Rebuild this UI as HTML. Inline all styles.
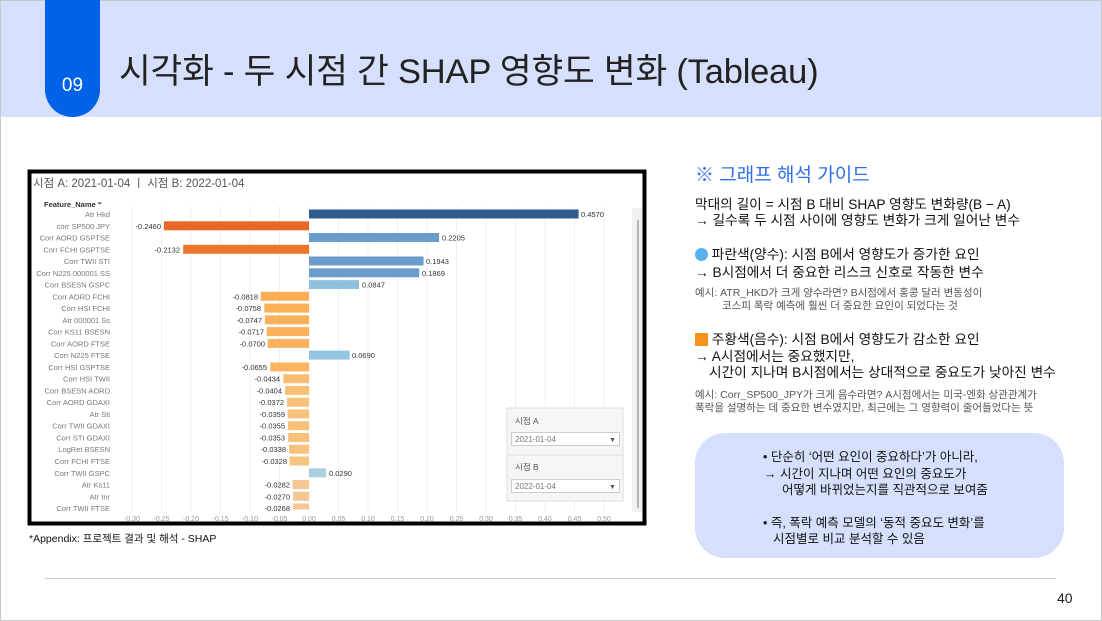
<!DOCTYPE html>
<html><head><meta charset="utf-8">
<style>
*{margin:0;padding:0;box-sizing:border-box}
body{width:1102px;height:621px;overflow:hidden;background:#fff;font-family:"Liberation Sans","Noto Sans CJK KR",sans-serif;position:relative}
.frame{position:absolute;left:0;top:0;width:1102px;height:621px;border:1px solid #c8c8c8}
.hdr{position:absolute;left:1px;top:1px;width:1100px;height:116px;background:#d6e0fd}
.tab{position:absolute;left:45px;top:0;width:55px;height:117px;background:#0062e8;border-radius:0 0 28px 28px;color:#fff;font-size:19px;text-align:center;padding-top:75px}
.title{position:absolute;left:119px;top:43px;font-size:34.5px;color:#222;white-space:nowrap;letter-spacing:-0.2px}
.t{position:absolute;white-space:nowrap;color:#111}
.s{font-size:13.7px}
.m{font-size:10.5px;color:#555}
.box{position:absolute;left:695px;top:433px;width:369px;height:125px;background:#d6e0fd;border-radius:30px}
</style></head><body>
<div class="frame"></div>
<div class="hdr"></div>
<div class="tab">09</div>
<div class="title">시각화 - 두 시점 간 SHAP 영향도 변화 (Tableau)</div>

<svg style="position:absolute;left:0;top:0" width="1102" height="621">
<rect x="29.5" y="171.5" width="615" height="352" fill="#fff" stroke="#000" stroke-width="4"/>
<text x="33" y="187" font-size="11.5" fill="#555" font-family="Liberation Sans,Noto Sans CJK KR,sans-serif">시점 A: 2021-01-04 ㅣ 시점 B: 2022-01-04</text>
<text x="44" y="207" font-size="7.5" fill="#333" font-weight="bold" font-family="Liberation Sans,sans-serif">Feature_Name ⁼</text>
<rect x="632" y="208" width="10" height="304" fill="#f0f0f0"/>
<line x1="638" y1="220" x2="638" y2="508" stroke="#777" stroke-width="1"/>
<g stroke="#f0f0f0" stroke-width="1">
<line x1="132" y1="206" x2="132" y2="512"/><line x1="161.5" y1="206" x2="161.5" y2="512"/><line x1="191" y1="206" x2="191" y2="512"/><line x1="220.5" y1="206" x2="220.5" y2="512"/><line x1="250" y1="206" x2="250" y2="512"/><line x1="279.5" y1="206" x2="279.5" y2="512"/><line x1="309" y1="206" x2="309" y2="512"/><line x1="338.5" y1="206" x2="338.5" y2="512"/><line x1="368" y1="206" x2="368" y2="512"/><line x1="397.5" y1="206" x2="397.5" y2="512"/><line x1="427" y1="206" x2="427" y2="512"/><line x1="456.5" y1="206" x2="456.5" y2="512"/><line x1="486" y1="206" x2="486" y2="512"/><line x1="515.5" y1="206" x2="515.5" y2="512"/><line x1="545" y1="206" x2="545" y2="512"/><line x1="574.5" y1="206" x2="574.5" y2="512"/><line x1="604" y1="206" x2="604" y2="512"/>
</g>
<g>
<rect x="309" y="209.5" width="269.6" height="9" fill="#2e5d8c"/>
<rect x="163.9" y="221.3" width="145.1" height="9" fill="#e8682a"/>
<rect x="309" y="233" width="130.1" height="9" fill="#6a9dcb"/>
<rect x="183.2" y="244.8" width="125.8" height="9" fill="#ee762c"/>
<rect x="309" y="256.5" width="114.6" height="9" fill="#6a9dcb"/>
<rect x="309" y="268.3" width="110.3" height="9" fill="#6a9dcb"/>
<rect x="309" y="280.1" width="50" height="9" fill="#8ec2df"/>
<rect x="260.7" y="291.8" width="48.3" height="9" fill="#fbae55"/>
<rect x="264.3" y="303.6" width="44.7" height="9" fill="#fbb05a"/>
<rect x="264.9" y="315.3" width="44.1" height="9" fill="#fbb05a"/>
<rect x="266.7" y="327.1" width="42.3" height="9" fill="#fbb15c"/>
<rect x="267.7" y="338.9" width="41.3" height="9" fill="#fbb25e"/>
<rect x="309" y="350.6" width="40.7" height="9" fill="#92c6e2"/>
<rect x="270.4" y="362.4" width="38.6" height="9" fill="#fbb460"/>
<rect x="283.4" y="374.2" width="25.6" height="9" fill="#f9bd72"/>
<rect x="285.2" y="385.9" width="23.8" height="9" fill="#f9be75"/>
<rect x="287.1" y="397.7" width="21.9" height="9" fill="#f8c078"/>
<rect x="287.8" y="409.4" width="21.2" height="9" fill="#f8c17a"/>
<rect x="288.1" y="421.2" width="20.9" height="9" fill="#f8c17a"/>
<rect x="288.2" y="433" width="20.8" height="9" fill="#f8c17a"/>
<rect x="289.1" y="444.7" width="19.9" height="9" fill="#f7c37e"/>
<rect x="289.6" y="456.5" width="19.4" height="9" fill="#f7c47f"/>
<rect x="309" y="468.3" width="17.1" height="9" fill="#a9cfe0"/>
<rect x="292.4" y="480" width="16.6" height="9" fill="#f2c793"/>
<rect x="293.1" y="491.8" width="15.9" height="9" fill="#f2c793"/>
<rect x="293.2" y="503.5" width="15.8" height="6" fill="#f2c793"/>
</g>
<g font-size="7.5" fill="#777" text-anchor="end" font-family="Liberation Sans,sans-serif">
<text x="110" y="217">Atr Hkd</text><text x="110" y="228.8">corr SP500 JPY</text><text x="110" y="240.5">Corr AORD GSPTSE</text><text x="110" y="252.3">Corr FCHI GSPTSE</text><text x="110" y="264">Corr TWII STI</text><text x="110" y="275.8">Corr N225 000001 SS</text><text x="110" y="287.6">Corr BSESN GSPC</text><text x="110" y="299.3">Corr AORD FCHI</text><text x="110" y="311.1">Corr HSI FCHI</text><text x="110" y="322.8">Atr 000001 Ss</text><text x="110" y="334.6">Corr KS11 BSESN</text><text x="110" y="346.4">Corr AORD FTSE</text><text x="110" y="358.1">Corr N225 FTSE</text><text x="110" y="369.9">Corr HSI GSPTSE</text><text x="110" y="381.7">Corr HSI TWII</text><text x="110" y="393.4">Corr BSESN AORD</text><text x="110" y="405.2">Corr AORD GDAXI</text><text x="110" y="416.9">Atr Sti</text><text x="110" y="428.7">Corr TWII GDAXI</text><text x="110" y="440.5">Corr STI GDAXI</text><text x="110" y="452.2">LogRet BSESN</text><text x="110" y="464">Corr FCHI FTSE</text><text x="110" y="475.8">Corr TWII GSPC</text><text x="110" y="487.5">Atr Ks11</text><text x="110" y="499.3">Atr Inr</text><text x="110" y="511">Corr TWII FTSE</text>
</g>
<g font-size="7.5" fill="#333" font-family="Liberation Sans,sans-serif">
<text x="581" y="217">0.4570</text>
<text x="161" y="228.8" text-anchor="end">-0.2460</text>
<text x="442" y="240.5">0.2205</text>
<text x="180" y="252.3" text-anchor="end">-0.2132</text>
<text x="426" y="264">0.1943</text>
<text x="422" y="275.8">0.1869</text>
<text x="362" y="287.6">0.0847</text>
<text x="258" y="299.3" text-anchor="end">-0.0818</text>
<text x="261" y="311.1" text-anchor="end">-0.0758</text>
<text x="262" y="322.8" text-anchor="end">-0.0747</text>
<text x="264" y="334.6" text-anchor="end">-0.0717</text>
<text x="265" y="346.4" text-anchor="end">-0.0700</text>
<text x="352" y="358.1">0.0690</text>
<text x="267" y="369.9" text-anchor="end">-0.0655</text>
<text x="280" y="381.7" text-anchor="end">-0.0434</text>
<text x="282" y="393.4" text-anchor="end">-0.0404</text>
<text x="284" y="405.2" text-anchor="end">-0.0372</text>
<text x="285" y="416.9" text-anchor="end">-0.0359</text>
<text x="285" y="428.7" text-anchor="end">-0.0355</text>
<text x="285" y="440.5" text-anchor="end">-0.0353</text>
<text x="286" y="452.2" text-anchor="end">-0.0338</text>
<text x="287" y="464" text-anchor="end">-0.0328</text>
<text x="329" y="475.8">0.0290</text>
<text x="290" y="487.5" text-anchor="end">-0.0282</text>
<text x="290" y="499.3" text-anchor="end">-0.0270</text>
<text x="290" y="511" text-anchor="end">-0.0268</text>
</g>
<g font-size="7" fill="#999" text-anchor="middle" font-family="Liberation Sans,sans-serif">
<text x="132" y="521">-0.30</text><text x="161.5" y="521">-0.25</text><text x="191" y="521">-0.20</text><text x="220.5" y="521">-0.15</text><text x="250" y="521">-0.10</text><text x="279.5" y="521">-0.05</text><text x="309" y="521">0.00</text><text x="338.5" y="521">0.05</text><text x="368" y="521">0.10</text><text x="397.5" y="521">0.15</text><text x="427" y="521">0.20</text><text x="456.5" y="521">0.25</text><text x="486" y="521">0.30</text><text x="515.5" y="521">0.35</text><text x="545" y="521">0.40</text><text x="574.5" y="521">0.45</text><text x="604" y="521">0.50</text>
</g>
<rect x="507" y="408" width="116" height="48" fill="#f6f6f6" stroke="#ddd"/>
<text x="515" y="424" font-size="8.5" fill="#555" font-family="Liberation Sans,Noto Sans CJK KR,sans-serif">시점 A</text>
<rect x="511.5" y="432.5" width="108" height="13" fill="#fff" stroke="#ccc"/>
<text x="515" y="442" font-size="8" fill="#777" font-family="Liberation Sans,sans-serif">2021-01-04</text>
<text x="609" y="442" font-size="7" fill="#555">▼</text>
<rect x="507" y="455" width="116" height="46" fill="#f6f6f6" stroke="#ddd"/>
<text x="515" y="470" font-size="8.5" fill="#555" font-family="Liberation Sans,Noto Sans CJK KR,sans-serif">시점 B</text>
<rect x="511.5" y="479.5" width="108" height="13" fill="#fff" stroke="#ccc"/>
<text x="515" y="489" font-size="8" fill="#777" font-family="Liberation Sans,sans-serif">2022-01-04</text>
<text x="609" y="489" font-size="7" fill="#555">▼</text>
<line x1="45" y1="578.5" x2="1056" y2="578.5" stroke="#ccc" stroke-width="1"/>
</svg>

<div class="t" style="left:29px;top:531px;font-size:10.5px">*Appendix: 프로젝트 결과 및 해석 - SHAP</div>

<div class="t" style="left:695px;top:160px;font-size:19px;color:#2f6fe6">※ 그래프 해석 가이드</div>
<div class="t s" style="left:695px;top:193px">막대의 길이 = 시점 B 대비 SHAP 영향도 변화량(B − A)</div>
<div class="t s" style="left:695px;top:209px">→ 길수록 두 시점 사이에 영향도 변화가 크게 일어난 변수</div>
<div class="t s" style="left:695px;top:243px"><span style="display:inline-block;width:13px;height:13px;border-radius:50%;background:#5aafef;vertical-align:-2px"></span> 파란색(양수): 시점 B에서 영향도가 증가한 요인</div>
<div class="t s" style="left:695px;top:261px">→ B시점에서 더 중요한 리스크 신호로 작동한 변수</div>
<div class="t m" style="left:695px;top:285px">예시: ATR_HKD가 크게 양수라면? B시점에서 홍콩 달러 변동성이</div>
<div class="t m" style="left:722px;top:298px">코스피 폭락 예측에 훨씬 더 중요한 요인이 되었다는 것</div>
<div class="t s" style="left:695px;top:328px"><span style="display:inline-block;width:13px;height:13px;background:#f7931a;vertical-align:-2px"></span> 주황색(음수): 시점 B에서 영향도가 감소한 요인</div>
<div class="t s" style="left:695px;top:345px">→ A시점에서는 중요했지만,</div>
<div class="t s" style="left:709px;top:361px">시간이 지나며 B시점에서는 상대적으로 중요도가 낮아진 변수</div>
<div class="t m" style="left:695px;top:387px">예시: Corr_SP500_JPY가 크게 음수라면? A시점에서는 미국-엔화 상관관계가</div>
<div class="t m" style="left:695px;top:400px">폭락을 설명하는 데 중요한 변수였지만, 최근에는 그 영향력이 줄어들었다는 뜻</div>

<div class="box"></div>
<div class="t" style="left:763px;top:446px;font-size:12.5px">• 단순히 ‘어떤 요인이 중요하다’가 아니라,</div>
<div class="t" style="left:764px;top:463px;font-size:12.5px">→ 시간이 지나며 어떤 요인의 중요도가</div>
<div class="t" style="left:782px;top:479px;font-size:12.5px">어떻게 바뀌었는지를 직관적으로 보여줌</div>
<div class="t" style="left:763px;top:512px;font-size:12.5px">• 즉, 폭락 예측 모델의 ‘동적 중요도 변화’를</div>
<div class="t" style="left:773px;top:528px;font-size:12.5px">시점별로 비교 분석할 수 있음</div>

<div class="t" style="left:1057px;top:590px;font-size:14px;color:#222">40</div>
</body></html>
